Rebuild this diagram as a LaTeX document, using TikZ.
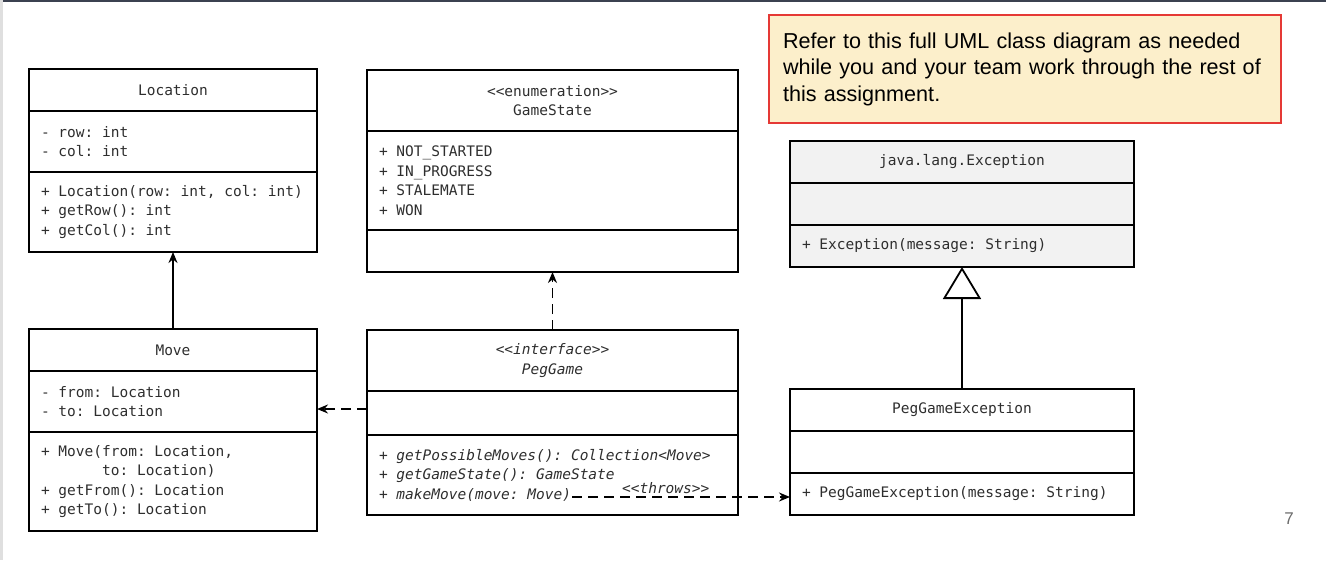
\documentclass[tikz,border=0pt]{standalone}
\usepackage{fontspec}
\setmainfont{Liberation Sans}
\newfontfamily\umlmono{DejaVu Sans Mono}
\usetikzlibrary{positioning,arrows.meta}

\definecolor{notefill}{HTML}{FCEFCB}
\definecolor{notered}{HTML}{E53935}
\definecolor{umltext}{HTML}{2E2E2E}
\definecolor{excfill}{HTML}{F2F2F2}
\definecolor{slidebar}{HTML}{3B4150}

\tikzset{
	umlbox/.style={draw, line width=1.8pt, outer sep=0pt, inner xsep=12pt, inner ysep=0pt,
		text=umltext, font=\umlmono\fontsize{14.5}{19.5}\selectfont,
		execute at begin node={\spaceskip=0.602em\xspaceskip=0.602em\relax}},
	umlhead/.style={umlbox, align=center},
	umlbody/.style={umlbox, align=left},
	dep/.style={line width=1.8pt, dash pattern=on 10pt off 6pt, -{Stealth[length=11pt,width=9pt]}},
	assoc/.style={line width=1.8pt, -{Stealth[length=11pt,width=9pt]}},
	inherit/.style={line width=1.8pt, -{Triangle[open,length=32pt,width=38pt]}},
}

\begin{document}
\begin{tikzpicture}[x=1pt,y=-1pt]

	\useasboundingbox (0,0) rectangle (1326,560);
	\fill[slidebar] (0,0) rectangle (1326,2);
	\fill[gray!25] (0,0) rectangle (3,560);

	% Note
	\node[draw=notered, fill=notefill, line width=1.8pt, minimum width=512, minimum height=108,
		inner xsep=14pt, text width=484, align=left, font=\fontsize{21.6}{26.5}\selectfont] (note) at (1025,69)
		{Refer to this full UML class diagram as needed\\while you and your team work through the rest of\\this assignment.};

	% Location
	\node[umlhead, minimum width=288, minimum height=42, anchor=north] (loc-name) at (173,69) {Location};
	\node[umlbody, text width=264, minimum height=61, below=0pt of loc-name] (loc-attr) {- row: int\\- col: int};
	\node[umlbody, text width=264, minimum height=80, below=0pt of loc-attr] (loc-ops)
		{+ Location(row: int, col: int)\\+ getRow(): int\\+ getCol(): int};

	% GameState
	\node[umlhead, minimum width=371, minimum height=61, anchor=north] (gs-name) at (552.5,70)
		{{<}{<}enumeration{>}{>}\\GameState};
	\node[umlbody, text width=347, minimum height=99, below=0pt of gs-name] (gs-attr)
		{+ NOT\_STARTED\\+ IN\_PROGRESS\\+ STALEMATE\\+ WON};
	\node[umlbody, text width=347, minimum height=42, below=0pt of gs-attr] (gs-ops) {};

	% java.lang.Exception
	\node[umlhead, fill=excfill, minimum width=344, minimum height=42, anchor=north] (exc-name) at (962,141)
		{java.lang.Exception};
	\node[umlbody, fill=excfill, text width=320, minimum height=42, below=0pt of exc-name] (exc-attr) {};
	\node[umlbody, fill=excfill, text width=320, minimum height=42, below=0pt of exc-attr] (exc-ops)
		{+ Exception(message: String)};

	% Move
	\node[umlhead, minimum width=288, minimum height=42, anchor=north] (move-name) at (173,329) {Move};
	\node[umlbody, text width=264, minimum height=61, below=0pt of move-name] (move-attr)
		{- from: Location\\- to: Location};
	\node[umlbody, text width=264, minimum height=99, below=0pt of move-attr] (move-ops)
		{+ Move(from: Location,\\\phantom{+ Move(}to: Location)\\+ getFrom(): Location\\+ getTo(): Location};

	% PegGame
	\node[umlhead, minimum width=371, minimum height=61, anchor=north, font=\umlmono\itshape\fontsize{14.5}{19.5}\selectfont]
		(peg-name) at (552.5,330) {{<}{<}interface{>}{>}\\PegGame};
	\node[umlbody, text width=347, minimum height=44, below=0pt of peg-name] (peg-attr) {};
	\node[umlbody, text width=347, minimum height=80, below=0pt of peg-attr, font=\umlmono\itshape\fontsize{14.5}{19.5}\selectfont]
		(peg-ops) {+ getPossibleMoves(): Collection{<}Move{>}\\+ getGameState(): GameState\\+ makeMove(move: Move)};
	\coordinate (mm-end) at (572,497);

	% PegGameException
	\node[umlhead, minimum width=344, minimum height=42, anchor=north] (pegex-name) at (962,389)
		{PegGameException};
	\node[umlbody, text width=320, minimum height=42, below=0pt of pegex-name] (pegex-attr) {};
	\node[umlbody, text width=320, minimum height=42, below=0pt of pegex-attr] (pegex-ops)
		{+ PegGameException(message: String)};

	% Relations
	\draw[assoc] (move-name.north) -- (loc-ops.south);
	\draw[dep] (peg-name.north) -- (gs-ops.south);
	\draw[dep] ([yshift=4pt]peg-attr.west) coordinate (use-start) -- (use-start -| move-attr.east);
	\draw[dep] (mm-end) -- node[pos=0.43, above=-1pt, text=umltext, font=\umlmono\itshape\fontsize{14.5}{19.5}\selectfont] (throws)
		{{<}{<}throws{>}{>}} (mm-end -| pegex-ops.west);
	\draw[inherit] (pegex-name.north) -- (exc-ops.south);

	% Page number
	\node[text=gray!85!black, font=\fontsize{17}{17}\selectfont] (pagenum) at (1289,519) {7};

\end{tikzpicture}
\end{document}
